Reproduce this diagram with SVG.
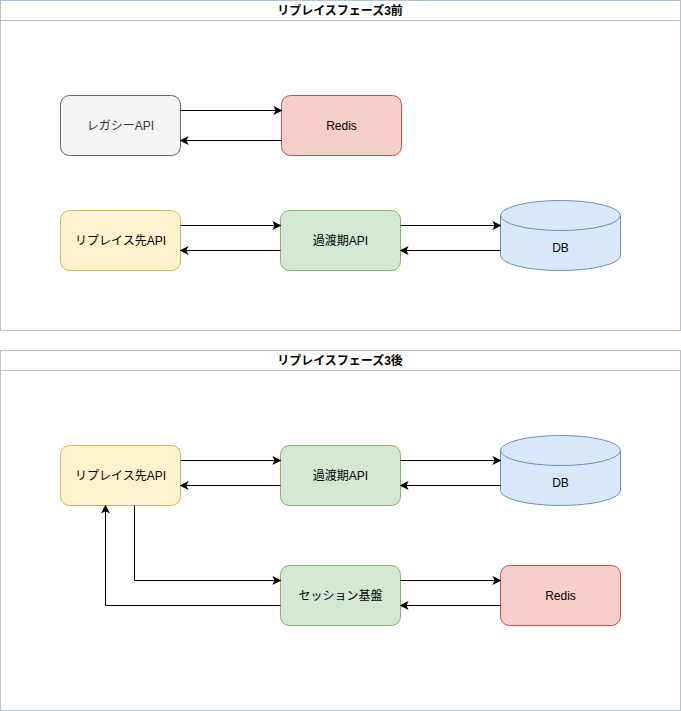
<svg xmlns="http://www.w3.org/2000/svg" width="681" height="711" viewBox="0 0 681 711">
<defs>
<marker id="arr" viewBox="0 0 10 10" refX="9" refY="5" markerWidth="9" markerHeight="9" markerUnits="userSpaceOnUse" orient="auto">
<path d="M0,0 L10,5 L0,10 L2.5,5 Z" fill="#000"/>
</marker>
</defs>
<style>
text{font-family:"Liberation Sans","Noto Sans CJK JP",sans-serif;font-size:12px;fill:#000;text-anchor:middle}
.t{font-weight:bold}
.cont{fill:#fff;stroke:#b0c4d4;stroke-width:1}
.gray{fill:#f5f5f5;stroke:#666}
.red{fill:#f8cecc;stroke:#b85450}
.yel{fill:#fff2cc;stroke:#d6b656}
.grn{fill:#d5e8d4;stroke:#82b366}
.blu{fill:#dae8fc;stroke:#6c8ebf}
.c{fill:none;stroke:#000;stroke-width:1;marker-end:url(#arr)}
</style>
<rect width="681" height="711" fill="#fff"/>
<g id="container1">
<rect class="cont" x="0.5" y="0.5" width="680" height="330"/>
<line x1="0.5" y1="20.5" x2="680.5" y2="20.5" stroke="#b0c4d4"/>
<text class="t" x="340" y="15">リプレイスフェーズ3前</text>
</g>
<g id="container2">
<rect class="cont" x="0.5" y="350.5" width="680" height="360"/>
<line x1="0.5" y1="370.5" x2="680.5" y2="370.5" stroke="#b0c4d4"/>
<text class="t" x="340" y="365">リプレイスフェーズ3後</text>
</g>
<g id="legacy1"><rect class="gray" x="60.5" y="95.5" width="120" height="60" rx="9"/><text x="120.5" y="130" fill="#333" style="fill:#333">レガシーAPI</text></g>
<g id="redis1"><rect class="red" x="281.5" y="95.5" width="120" height="60" rx="9"/><text x="341.5" y="130">Redis</text></g>
<g id="replace1"><rect class="yel" x="60.5" y="210.5" width="120" height="60" rx="9"/><text x="120.5" y="245">リプレイス先API</text></g>
<g id="trans1"><rect class="grn" x="280.5" y="210.5" width="120" height="60" rx="9"/><text x="340.5" y="245">過渡期API</text></g>
<g id="db1"><path class="blu" d="M500.5,215.5 A60,15 0 0 1 620.5,215.5 L620.5,255.5 A60,15 0 0 1 500.5,255.5 Z"/><path d="M500.5,215.5 A60,15 0 0 0 620.5,215.5" fill="none" stroke="#6c8ebf"/><text x="560.5" y="252">DB</text></g>
<g id="replace2"><rect class="yel" x="60.5" y="445.5" width="120" height="60" rx="9"/><text x="120.5" y="480">リプレイス先API</text></g>
<g id="trans2"><rect class="grn" x="280.5" y="445.5" width="120" height="60" rx="9"/><text x="340.5" y="480">過渡期API</text></g>
<g id="db2"><path class="blu" d="M500.5,450.5 A60,15 0 0 1 620.5,450.5 L620.5,490.5 A60,15 0 0 1 500.5,490.5 Z"/><path d="M500.5,450.5 A60,15 0 0 0 620.5,450.5" fill="none" stroke="#6c8ebf"/><text x="560.5" y="487">DB</text></g>
<g id="session"><rect class="grn" x="280.5" y="565.5" width="120" height="60" rx="9"/><text x="340.5" y="600">セッション基盤</text></g>
<g id="redis2"><rect class="red" x="500.5" y="565.5" width="120" height="60" rx="9"/><text x="560.5" y="600">Redis</text></g>
<g id="connectors">
<path class="c" d="M180.5,110.5 L281.5,110.5"/>
<path class="c" d="M281.5,140.5 L180.5,140.5"/>
<path class="c" d="M180.5,225.5 L280.5,225.5"/>
<path class="c" d="M280.5,250.5 L180.5,250.5"/>
<path class="c" d="M400.5,225.5 L500.5,225.5"/>
<path class="c" d="M500.5,250.5 L400.5,250.5"/>
<path class="c" d="M180.5,460.5 L280.5,460.5"/>
<path class="c" d="M280.5,485.5 L180.5,485.5"/>
<path class="c" d="M400.5,460.5 L500.5,460.5"/>
<path class="c" d="M500.5,485.5 L400.5,485.5"/>
<path class="c" d="M134.5,505.5 L134.5,580.5 L280.5,580.5"/>
<path class="c" d="M280.5,605.5 L105.5,605.5 L105.5,505.5"/>
<path class="c" d="M400.5,580.5 L500.5,580.5"/>
<path class="c" d="M500.5,605.5 L400.5,605.5"/>
</g>
</svg>
